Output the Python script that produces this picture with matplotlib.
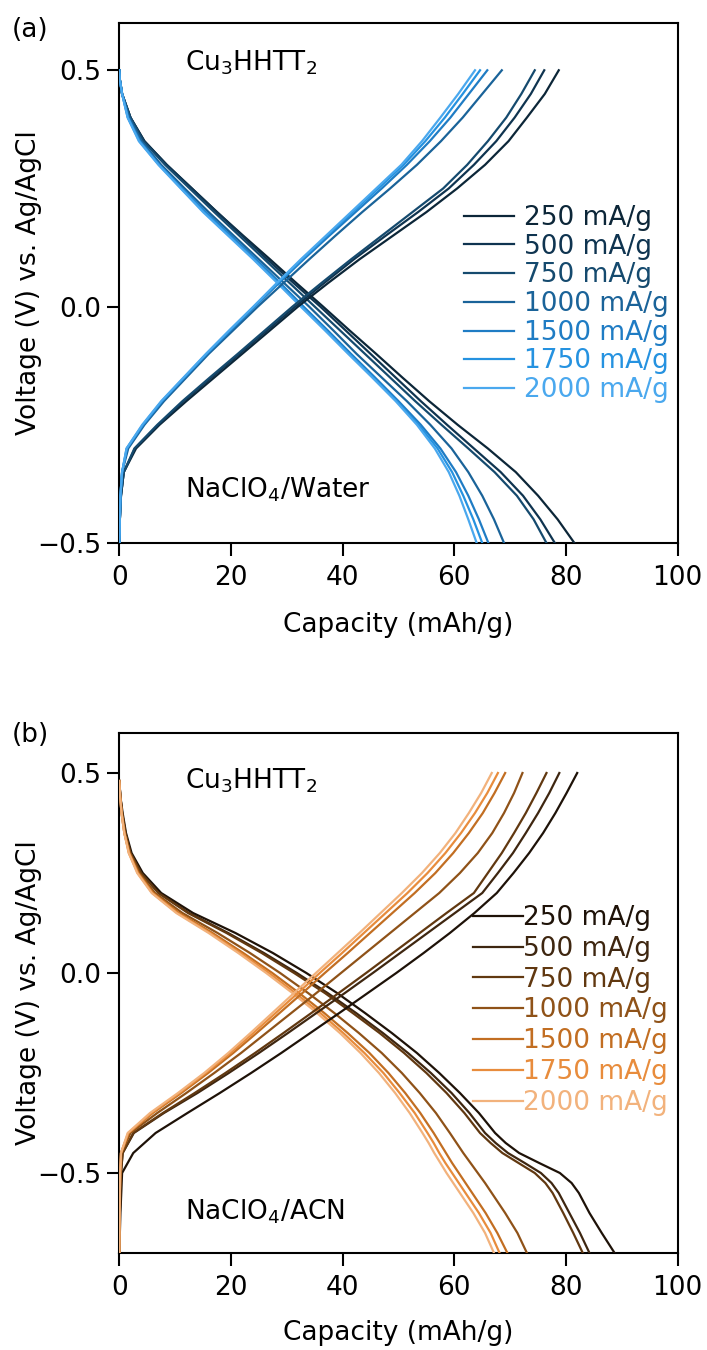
import matplotlib
matplotlib.use("Agg")
import matplotlib.pyplot as plt

plt.rcParams['font.family'] = ['DejaVu Sans']

rates = ["250 mA/g", "500 mA/g", "750 mA/g", "1000 mA/g", "1500 mA/g", "1750 mA/g", "2000 mA/g"]

colors_a = ["#0c2638", "#0f3450", "#154a6e", "#1a6399", "#1f7cc4", "#2592e0", "#4aa8ee"]
colors_b = ["#1e1208", "#3e2610", "#613810", "#8f5218", "#c26e22", "#e88c3c", "#f2b27c"]

# ---------------- Panel (a): NaClO4/Water ----------------
# discharge: capacity (mAh/g) read at each voltage level (V)
volt_dis_a = [0.50, 0.48, 0.45, 0.40, 0.35, 0.30, 0.25, 0.20, 0.15, 0.10, 0.05, 0.00,
              -0.05, -0.10, -0.15, -0.20, -0.25, -0.30, -0.35, -0.40, -0.45, -0.50]
cap_dis_a_250 = [0, 0.1, 0.5, 2.0, 4.5, 8.5, 13.0, 17.5, 22.2, 27.0, 31.7, 36.5, 41.2, 46.0, 50.7, 55.5, 60.6, 66.0, 71.0, 75.0, 78.5, 81.5]
cap_dis_a_500 = [0, 0.1, 0.5, 2.0, 4.5, 8.5, 13.0, 17.5, 22.0, 26.5, 31.2, 36.0, 40.5, 45.0, 49.5, 54.0, 58.7, 63.5, 68.3, 72.3, 75.4, 78.0]
cap_dis_a_750 = [0, 0.1, 0.5, 2.0, 4.3, 8.2, 12.6, 17.0, 21.5, 26.0, 30.5, 35.0, 39.5, 44.0, 48.5, 53.0, 57.7, 62.5, 67.2, 71.2, 74.2, 76.5]
cap_dis_a_1000 = [0, 0.1, 0.5, 1.8, 4.0, 7.5, 11.7, 16.0, 20.5, 25.0, 29.5, 34.0, 38.3, 42.5, 47.0, 51.5, 55.7, 59.5, 62.5, 65.0, 67.1, 68.9]
cap_dis_a_1500 = [0, 0.1, 0.5, 1.6, 3.7, 7.2, 11.3, 15.5, 20.0, 24.5, 28.8, 33.0, 37.3, 41.5, 45.8, 50.0, 54.0, 57.5, 60.3, 62.5, 64.4, 66.1]
cap_dis_a_1750 = [0, 0.1, 0.5, 1.5, 3.6, 7.1, 11.1, 15.2, 19.7, 24.2, 28.5, 32.7, 37.0, 41.2, 45.5, 49.7, 53.6, 57.0, 59.6, 61.6, 63.4, 65.0]
cap_dis_a_2000 = [0, 0.1, 0.5, 1.5, 3.5, 7.0, 11.0, 15.0, 19.5, 24.0, 28.3, 32.5, 36.8, 41.0, 45.3, 49.5, 53.3, 56.5, 59.0, 60.9, 62.5, 64.0]

# charge
volt_chg_a = [-0.50, -0.48, -0.45, -0.40, -0.35, -0.30, -0.25, -0.20, -0.15, -0.10, -0.05, 0.00,
              0.05, 0.10, 0.15, 0.20, 0.25, 0.30, 0.35, 0.40, 0.45, 0.50]
cap_chg_a_250 = [0, 0.05, 0.1, 0.3, 0.8, 3.0, 7.2, 12.0, 17.0, 22.0, 27.0, 32.0, 37.4, 43.0, 49.0, 55.0, 60.5, 65.5, 69.7, 73.0, 76.2, 78.7]
cap_chg_a_500 = [0, 0.05, 0.1, 0.3, 0.8, 2.8, 7.0, 11.5, 16.5, 21.5, 26.5, 31.5, 36.7, 42.0, 47.7, 53.5, 59.0, 63.5, 67.5, 70.8, 73.7, 76.1]
cap_chg_a_750 = [0, 0.05, 0.1, 0.3, 0.8, 2.7, 6.8, 11.3, 16.2, 21.2, 26.1, 31.0, 36.2, 41.5, 47.0, 52.5, 58.0, 62.3, 66.0, 69.3, 72.0, 74.4]
cap_chg_a_1000 = [0, 0.05, 0.1, 0.2, 0.5, 1.6, 4.5, 8.0, 12.0, 16.0, 20.4, 24.8, 29.4, 34.0, 38.7, 43.5, 48.5, 53.3, 57.6, 61.5, 65.0, 68.5]
cap_chg_a_1500 = [0, 0.05, 0.1, 0.2, 0.5, 1.4, 4.3, 7.7, 11.7, 15.7, 20.0, 24.3, 28.6, 33.0, 37.6, 42.3, 47.0, 51.5, 55.6, 59.3, 62.6, 65.9]
cap_chg_a_1750 = [0, 0.05, 0.1, 0.2, 0.5, 1.3, 4.2, 7.6, 11.6, 15.6, 19.8, 24.1, 28.4, 32.7, 37.2, 41.8, 46.4, 50.9, 54.8, 58.3, 61.5, 64.6]
cap_chg_a_2000 = [0, 0.05, 0.1, 0.2, 0.5, 1.3, 4.1, 7.5, 11.5, 15.5, 19.7, 24.0, 28.2, 32.5, 37.0, 41.5, 46.0, 50.5, 54.2, 57.5, 60.7, 63.7]

# ---------------- Panel (b): NaClO4/ACN ----------------
volt_dis_b = [0.48, 0.44, 0.40, 0.35, 0.30, 0.25, 0.20, 0.15, 0.10, 0.05, 0.00, -0.05, -0.10,
              -0.15, -0.20, -0.25, -0.30, -0.35, -0.40, -0.425, -0.45, -0.475, -0.50, -0.525,
              -0.55, -0.60, -0.65, -0.70]
cap_dis_b_250 = [0, 0.2, 0.6, 1.2, 2.2, 4.2, 7.5, 13.2, 20.8, 27.5, 33.5, 39.0, 44.0, 48.8, 53.3, 57.3, 61.0, 64.4, 67.3, 69.2, 71.6, 75.2, 78.9, 81.0, 82.3, 84.2, 86.4, 88.7]
cap_dis_b_500 = [0, 0.2, 0.5, 1.1, 2.0, 3.9, 7.1, 12.5, 19.5, 25.9, 31.8, 37.3, 42.4, 47.2, 51.7, 55.8, 59.5, 62.7, 65.5, 67.4, 69.6, 72.6, 75.5, 77.4, 78.7, 80.6, 82.5, 84.2]
cap_dis_b_750 = [0, 0.2, 0.5, 1.1, 2.0, 3.9, 7.0, 12.3, 19.2, 25.5, 31.3, 36.8, 41.8, 46.6, 51.0, 55.0, 58.6, 61.8, 64.6, 66.5, 68.6, 71.5, 74.4, 76.3, 77.6, 79.5, 81.3, 83.0]
cap_dis_b_1000 = [0, 0.2, 0.5, 1.0, 1.9, 3.6, 6.4, 11.3, 17.6, 23.4, 28.8, 33.8, 38.5, 42.9, 47.0, 50.6, 53.8, 56.7, 59.2, 60.4, 61.6, 62.9, 64.2, 65.5, 66.7, 69.1, 71.3, 73.0]
cap_dis_b_1500 = [0, 0.15, 0.4, 0.9, 1.8, 3.4, 6.1, 10.7, 16.7, 22.2, 27.4, 32.2, 36.7, 40.9, 44.8, 48.2, 51.2, 53.9, 56.3, 57.4, 58.5, 59.6, 60.8, 62.0, 63.2, 65.6, 67.7, 69.5]
cap_dis_b_1750 = [0, 0.15, 0.4, 0.9, 1.7, 3.3, 5.9, 10.4, 16.3, 21.7, 26.8, 31.5, 36.0, 40.1, 43.9, 47.3, 50.2, 52.9, 55.2, 56.3, 57.3, 58.4, 59.6, 60.8, 62.0, 64.4, 66.5, 68.1]
cap_dis_b_2000 = [0, 0.15, 0.4, 0.9, 1.7, 3.2, 5.8, 10.2, 16.0, 21.3, 26.3, 31.0, 35.4, 39.5, 43.2, 46.5, 49.4, 52.0, 54.3, 55.4, 56.4, 57.5, 58.6, 59.8, 61.0, 63.4, 65.5, 67.1]

volt_chg_b = [-0.70, -0.65, -0.60, -0.55, -0.50, -0.45, -0.40, -0.35, -0.30, -0.25, -0.20, -0.15, -0.10,
              -0.05, 0.00, 0.05, 0.10, 0.15, 0.20, 0.25, 0.30, 0.35, 0.40, 0.45, 0.50]
cap_chg_b_250 = [0, 0.1, 0.2, 0.35, 0.5, 2.5, 6.5, 12.2, 18.0, 23.6, 29.0, 34.2, 39.4, 44.5, 49.6, 54.5, 59.2, 63.6, 67.6, 70.6, 73.4, 75.9, 78.1, 80.1, 82.0]
cap_chg_b_500 = [0, 0.03, 0.1, 0.2, 0.3, 0.6, 2.6, 8.0, 14.0, 19.6, 25.0, 30.2, 35.3, 40.4, 45.4, 50.3, 55.2, 60.1, 65.0, 67.8, 70.5, 72.8, 75.0, 77.0, 78.8]
cap_chg_b_750 = [0, 0.03, 0.1, 0.2, 0.3, 0.6, 2.5, 7.8, 13.5, 19.0, 24.3, 29.4, 34.4, 39.3, 44.2, 49.0, 53.8, 58.6, 63.5, 66.0, 68.5, 70.7, 72.8, 74.7, 76.5]
cap_chg_b_1000 = [0, 0.02, 0.05, 0.1, 0.2, 0.4, 2.0, 6.8, 12.0, 17.0, 21.8, 26.3, 30.8, 35.3, 39.7, 44.1, 48.5, 52.9, 57.3, 61.0, 64.2, 66.8, 68.9, 70.7, 72.2]
cap_chg_b_1500 = [0, 0.02, 0.05, 0.1, 0.15, 0.3, 1.7, 6.0, 11.1, 15.9, 20.4, 24.6, 28.7, 32.8, 36.8, 40.9, 44.9, 48.9, 52.9, 56.6, 59.8, 62.6, 65.1, 67.2, 69.1]
cap_chg_b_1750 = [0, 0.02, 0.05, 0.1, 0.15, 0.3, 1.6, 5.8, 10.8, 15.5, 19.9, 24.0, 28.0, 32.0, 35.9, 39.9, 43.8, 47.7, 51.6, 55.2, 58.4, 61.2, 63.7, 65.9, 67.8]
cap_chg_b_2000 = [0, 0.02, 0.05, 0.1, 0.15, 0.3, 1.5, 5.5, 10.5, 15.2, 19.5, 23.5, 27.4, 31.3, 35.2, 39.1, 43.0, 46.8, 50.6, 54.2, 57.4, 60.2, 62.6, 64.8, 66.7]

dis_a = [cap_dis_a_250, cap_dis_a_500, cap_dis_a_750, cap_dis_a_1000, cap_dis_a_1500, cap_dis_a_1750, cap_dis_a_2000]
chg_a = [cap_chg_a_250, cap_chg_a_500, cap_chg_a_750, cap_chg_a_1000, cap_chg_a_1500, cap_chg_a_1750, cap_chg_a_2000]
dis_b = [cap_dis_b_250, cap_dis_b_500, cap_dis_b_750, cap_dis_b_1000, cap_dis_b_1500, cap_dis_b_1750, cap_dis_b_2000]
chg_b = [cap_chg_b_250, cap_chg_b_500, cap_chg_b_750, cap_chg_b_1000, cap_chg_b_1500, cap_chg_b_1750, cap_chg_b_2000]

FS = 19
W, H = 707, 1350
FS_PX = FS * 100 / 72.0

fig = plt.figure(figsize=(W / 100, H / 100), dpi=100)
ax_a = fig.add_axes([119.3 / W, 1 - 543 / H, 558.4 / W, 520 / H])
ax_b = fig.add_axes([119.3 / W, 1 - 1253 / H, 558.4 / W, 520 / H])


def style(ax, ylim, yticks, xlabel_y):
    ax.set_xlim(0, 100)
    ax.set_ylim(*ylim)
    ax.set_xticks([0, 20, 40, 60, 80, 100])
    ax.set_yticks(yticks)
    ax.set_yticklabels(["\u2212%.1f" % abs(t) if t < 0 else "%.1f" % t for t in yticks])
    for s in ax.spines.values():
        s.set_linewidth(1.5)
    ax.tick_params(direction='out', length=9, width=1.5, labelsize=FS,
                   top=False, right=False)
    ax.tick_params(axis='x', pad=7)
    ax.tick_params(axis='y', pad=4)
    ax.set_xlabel("Capacity (mAh/g)", fontsize=FS)
    ax.xaxis.set_label_coords(0.5, xlabel_y)
    ax.xaxis.label.set_va('center')
    ax.set_ylabel("Voltage (V) vs. Ag/AgCl", fontsize=FS)
    ax.yaxis.set_label_coords((29 - 119.3) / 558.4, 0.5)
    ax.yaxis.label.set_va('center')


def place_legend(ax, colors, x_left_px, first_px, spacing_px, textpad):
    ls = 0.0
    ay = 0.65
    leg = None
    for _ in range(4):
        if leg is not None:
            leg.remove()
        leg = ax.legend(loc='upper left', bbox_to_anchor=((x_left_px - 119.3) / 558.4, ay),
                        frameon=False, fontsize=FS, handlelength=1.9, handletextpad=textpad,
                        labelspacing=ls, borderpad=0, borderaxespad=0)
        for t, c in zip(leg.get_texts(), colors):
            t.set_color(c)
        for ln in leg.get_lines():
            ln.set_linewidth(1.6)
        fig.canvas.draw()
        r = fig.canvas.get_renderer()
        ext = [t.get_window_extent(r) for t in leg.get_texts()]
        cen = [H - (e.y0 + e.y1) / 2 for e in ext]
        sp = (cen[-1] - cen[0]) / (len(cen) - 1)
        ls += (spacing_px - sp) / FS_PX
        ay += (cen[0] - first_px) / 520.0
    return leg


# Panel a
for i in range(len(rates)):
    ax_a.plot(dis_a[i], volt_dis_a, color=colors_a[i], lw=1.6, zorder=3)
for i in range(len(rates)):
    ax_a.plot(chg_a[i], volt_chg_a, color=colors_a[i], lw=1.6, label=rates[i], zorder=3)
style(ax_a, (-0.5, 0.6), [-0.5, 0.0, 0.5], -(625 - 543) / 520)
ax_a.text(0.118, 0.923, "Cu$_3$HHTT$_2$", transform=ax_a.transAxes, fontsize=FS, va='center')
ax_a.text(0.118, 0.102, "NaClO$_4$/Water", transform=ax_a.transAxes, fontsize=FS, va='center')

# Panel b
for i in range(len(rates)):
    ax_b.plot(dis_b[i], volt_dis_b, color=colors_b[i], lw=1.6, zorder=3)
for i in range(len(rates)):
    ax_b.plot(chg_b[i], volt_chg_b, color=colors_b[i], lw=1.6, label=rates[i], zorder=3)
style(ax_b, (-0.7, 0.6), [-0.5, 0.0, 0.5], -(1333 - 1253) / 520)
ax_b.text(0.118, 0.909, "Cu$_3$HHTT$_2$", transform=ax_b.transAxes, fontsize=FS, va='center')
ax_b.text(0.118, 0.079, "NaClO$_4$/ACN", transform=ax_b.transAxes, fontsize=FS, va='center')

fig.text(30 / W, 1 - 30 / H, "(a)", fontsize=FS, ha='center', va='center')
fig.text(30 / W, 1 - 735 / H, "(b)", fontsize=FS, ha='center', va='center')

place_legend(ax_a, colors_a, 464, 218, 28.7, 0.38)
place_legend(ax_b, colors_b, 473, 918, 30.8, 0.0)

fig.savefig("out.png", dpi=100)
